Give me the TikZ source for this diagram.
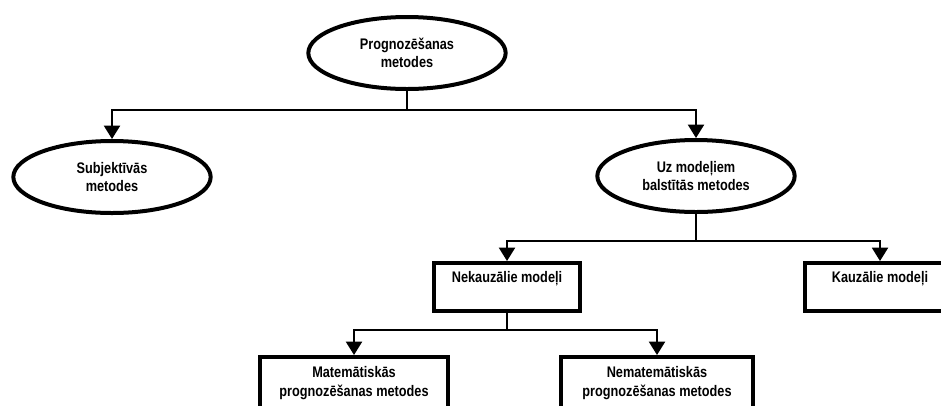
\documentclass[tikz,border=0pt]{standalone}
\usepackage{fontspec}
\setmainfont[FakeStretch=0.83]{Liberation Sans}
\usetikzlibrary{shapes.geometric,arrows.meta}
\begin{document}
\begin{tikzpicture}[x=0.75pt,y=-0.75pt]
\tikzset{ovale/.style={draw, ellipse, line width=3pt, minimum width=148pt, minimum height=54pt, inner sep=0pt, align=center, font=\bfseries\fontsize{11.5}{14}\selectfont},
boite/.style={draw, rectangle, line width=3pt, anchor=north, inner xsep=2pt, inner ysep=6pt, align=center, font=\bfseries\fontsize{11.5}{14}\selectfont},
trait/.style={line width=1.5pt},
fleche/.style={line width=1.5pt, -{Triangle[length=10pt,width=12pt]}}}
\clip (0,0) rectangle (941,405);
\fill[white] (0,0) rectangle (941,405);
\node[ovale] (P) at (407,53) {Prognozēšanas\\metodes};
\node[ovale] (S) at (112,177) {Subjektīvās\\metodes};
\node[ovale] (U) at (696,176) {Uz modeļiem\\balstītās metodes};
\node[boite, minimum width=110pt, text height=8.5pt, text depth=15.5pt] (N) at (507,261) {Nekauzālie modeļi};
\node[boite, minimum width=112pt, text height=8.5pt, text depth=15.5pt] (K) at (880,261) {Kauzālie modeļi};
\node[boite, minimum width=141pt, inner ysep=7pt] (M) at (354,355) {Matemātiskās\\prognozēšanas metodes};
\node[boite, minimum width=144pt, inner ysep=7pt] (NM) at (657,355) {Nematemātiskās\\prognozēšanas metodes};
\coordinate (b1) at (407,110);
\coordinate (b2) at (696,241);
\coordinate (b3) at (507,330);
\draw[trait] (P.south) -- (b1);
\draw[fleche] (b1) -| (S.north);
\draw[fleche] (b1) -| (U.north);
\draw[trait] (U.south) -- (b2);
\draw[fleche] (b2) -| (N.north);
\draw[fleche] (b2) -| (K.north);
\draw[trait] (N.south) -- (b3);
\draw[fleche] (b3) -| (M.north);
\draw[fleche] (b3) -| (NM.north);
\end{tikzpicture}
\end{document}
